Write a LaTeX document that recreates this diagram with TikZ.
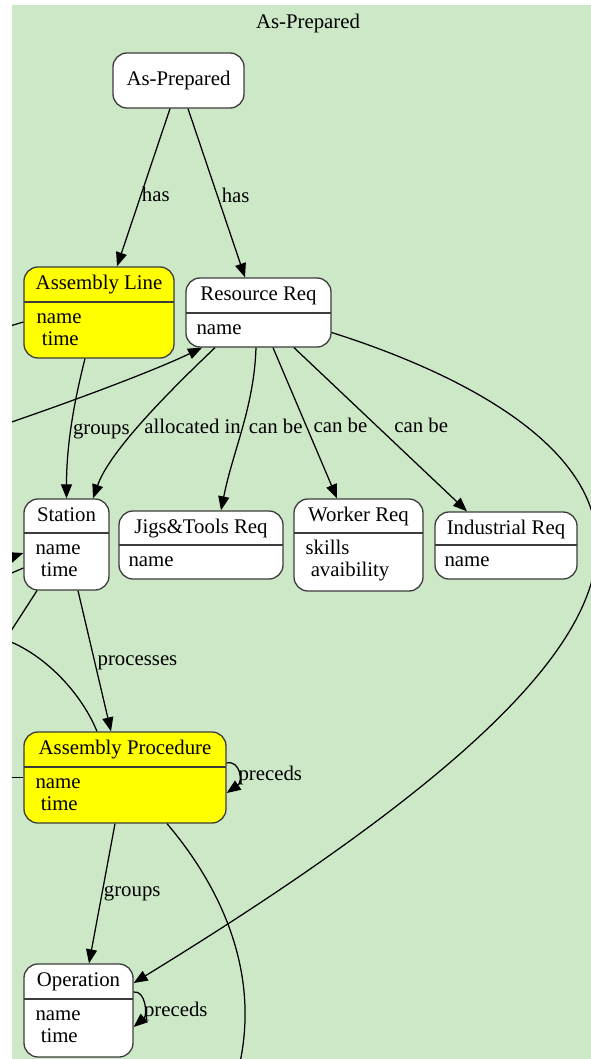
\documentclass[tikz,border=0pt]{standalone}
\usepackage{fontspec}
\setmainfont{Liberation Serif}
\usetikzlibrary{arrows.meta,positioning}
\definecolor{clusterbg}{RGB}{204,232,198}
\definecolor{nodeline}{RGB}{60,60,60}
\definecolor{procyellow}{RGB}{255,255,0}
\tikzset{
  rec/.style={draw=nodeline, line width=1.3pt, rounded corners=14pt, fill=white, inner sep=0pt},
  hl/.style={fill=procyellow},
  divider/.style={path picture={\draw[nodeline, line width=1.3pt]
      ([yshift=-#1]path picture bounding box.north west) --
      ([yshift=-#1]path picture bounding box.north east);}},
  hdr/.style={inner sep=0pt, text height=14pt, text depth=4.5pt},
  body/.style={inner sep=0pt, align=left, anchor=north west},
  link/.style={-{Triangle[length=14pt,width=11pt]}, line width=1.25pt},
  lbl/.style={inner sep=0pt, text height=14pt, text depth=4.5pt},
}
\begin{document}
\begin{tikzpicture}[x=1pt, y=-1pt, font=\fontsize{20.8}{22}\selectfont]
  \useasboundingbox (0,0) rectangle (591,1059);
  % cluster
  \fill[clusterbg] (12,5) rectangle (595,1065);
  \node[lbl] (title) at (308,24) {As-Prepared};
  \clip (12,5) rectangle (591,1059);

  % nodes
  \node[rec, minimum width=131pt, minimum height=55pt, text height=14pt, text depth=4.5pt] (prep) at (178.5,80.5) {As-Prepared};

  \node[rec, hl, divider=35pt, minimum width=150pt, minimum height=91pt] (line) at (99,312.5) {};
  \node[hdr] (line-h) at ([yshift=-18.5pt]line.north) {Assembly Line};
  \node[body] (line-b) at ([xshift=13pt, yshift=-42pt]line.north west) {\strut name\\\hspace*{0.25em}time};

  \node[rec, divider=35pt, minimum width=145pt, minimum height=69pt] (res) at (258.5,312.5) {};
  \node[hdr] (res-h) at ([yshift=-18.5pt]res.north) {Resource Req};
  \node[body] (res-b) at ([xshift=11pt, yshift=-42pt]res.north west) {\strut name};

  \node[rec, divider=34pt, minimum width=85pt, minimum height=91pt] (station) at (66.5,544.5) {};
  \node[hdr] (station-h) at ([yshift=-18.5pt]station.north) {Station};
  \node[body] (station-b) at ([xshift=12pt, yshift=-41pt]station.north west) {\strut name\\\hspace*{0.25em}time};

  \node[rec, divider=34pt, minimum width=164pt, minimum height=68pt] (jigs) at (201,545) {};
  \node[hdr] (jigs-h) at ([yshift=-18.5pt]jigs.north) {Jigs\&Tools Req};
  \node[body] (jigs-b) at ([xshift=10pt, yshift=-41pt]jigs.north west) {\strut name};

  \node[rec, divider=34pt, minimum width=129pt, minimum height=92pt] (worker) at (358.5,545) {};
  \node[hdr] (worker-h) at ([yshift=-18.5pt]worker.north) {Worker Req};
  \node[body] (worker-b) at ([xshift=12pt, yshift=-41pt]worker.north west) {\strut skills\\\hspace*{0.25em}avaibility};

  \node[rec, divider=33pt, minimum width=142pt, minimum height=67pt] (ind) at (506,545.5) {};
  \node[hdr] (ind-h) at ([yshift=-18.5pt]ind.north) {Industrial Req};
  \node[body] (ind-b) at ([xshift=10pt, yshift=-40pt]ind.north west) {\strut name};

  \node[rec, hl, divider=35pt, minimum width=202pt, minimum height=91pt] (proc) at (125,777.5) {};
  \node[hdr] (proc-h) at ([yshift=-18.5pt]proc.north) {Assembly Procedure};
  \node[body] (proc-b) at ([xshift=12pt, yshift=-42pt]proc.north west) {\strut name\\\hspace*{0.25em}time};

  \node[rec, divider=35pt, minimum width=109pt, minimum height=93pt] (oper) at (78.5,1010.5) {};
  \node[hdr] (oper-h) at ([yshift=-18.5pt]oper.north) {Operation};
  \node[body] (oper-b) at ([xshift=12pt, yshift=-42pt]oper.north west) {\strut name\\\hspace*{0.25em}time};

  % ends of edges from outside the cluster
  \coordinate (in-line) at (0,329);
  \coordinate (in-res) at (0,426);
  \coordinate (in-st) at (0,561);
  \coordinate (in-st2) at (0,578);
  \coordinate (out-st) at (0,648);
  \coordinate (in-proc) at (0,638);
  \coordinate (in-proc2) at (0,777.5);
  \coordinate (out-proc) at (237,1075);
  \coordinate (bend) at (597,545);

  % edges
  \draw[link] ([xshift=-8.5pt]prep.south) -- ([xshift=18pt]line.north) node[lbl, pos=.56, right=1pt] {has};
  \draw[link] ([xshift=9.5pt]prep.south) -- ([xshift=-13.5pt]res.north) node[lbl, pos=.53, right=3pt] {has};
  \draw[link] ([xshift=-14pt]line.south) .. controls +(-13,51) and +(0,-48) .. (station.north) node[lbl, pos=.5, right=1.5pt] {groups};
  \draw[link] ([xshift=-43.5pt]res.south) .. controls +(-45,43) and +(17,-48) .. ([xshift=26.5pt]station.north) node[lbl, pos=.55, right=7pt] {allocated in};
  \draw[link] ([xshift=-2.5pt]res.south) .. controls +(-2,60) and +(12,-60) .. ([xshift=20pt]jigs.north) node[lbl, pos=.5, right=6pt] {can be};
  \draw[link] ([xshift=14.5pt]res.south) -- ([xshift=-21.5pt]worker.north) node[lbl, pos=.53, right=6pt] {can be};
  \draw[link] ([xshift=35.5pt]res.south) -- ([xshift=-39pt]ind.north) node[lbl, pos=.49, right=15pt] {can be};
  \draw[link] ([yshift=-20pt]res.east) .. controls (450,370) and (597,440) .. (bend)
    .. controls (597,650) and (458,784) .. ([yshift=27.5pt]oper.east);
  \draw[link] ([xshift=11.5pt]station.south) -- ([xshift=-14pt]proc.north) node[lbl, pos=.5, right=2.5pt] {processes};
  \draw[link] ([yshift=14.5pt]proc.east) .. controls +(14,-3) and +(16,-11) .. ([yshift=-15.5pt]proc.east) node[lbl, pos=.5, right=0pt, yshift=-3pt] {preceds};
  \draw[link] ([xshift=-10pt]proc.south) -- ([xshift=10.5pt]oper.north) node[lbl, pos=.49, right=1pt] {groups};
  \draw[link] ([yshift=18.5pt]oper.east) .. controls +(12,-2) and +(14,-12) .. ([yshift=-16.5pt]oper.east) node[lbl, pos=.5, right=0pt, yshift=-7pt] {preceds};
  \draw[line width=1.25pt] ([xshift=42pt]proc.south) .. controls (215,880) and (265,970) .. (out-proc);

  \draw[line width=1.25pt] (in-line) -- ([yshift=-9.5pt]line.west);
  \draw[link] (in-res) .. controls (85,397) and (160,368) .. ([xshift=-56.5pt]res.south);
  \draw[link] (in-st) -- ([yshift=-8.5pt]station.west);
  \draw[line width=1.25pt] (in-st2) -- ([yshift=-23.5pt]station.west);
  \draw[line width=1.25pt] ([xshift=-29.5pt]station.south) -- (out-st);
  \draw[line width=1.25pt] (in-proc) .. controls (40,650) and (80,690) .. ([xshift=-28pt]proc.north);
  \draw[line width=1.25pt] (in-proc2) -- (proc.west);
\end{tikzpicture}
\end{document}
